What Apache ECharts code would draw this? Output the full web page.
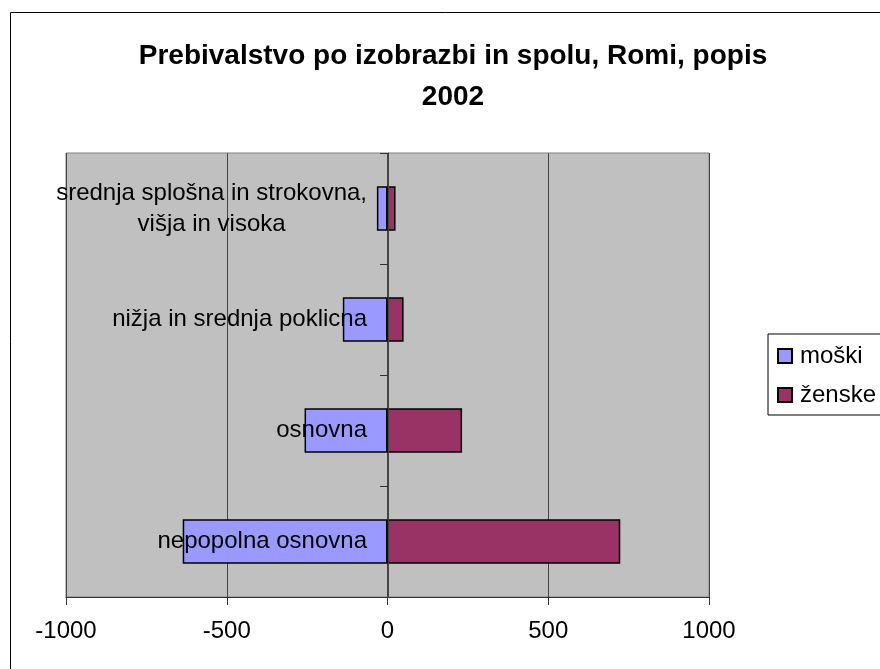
<!DOCTYPE html>
<html>
<head>
<meta charset="utf-8">
<script src="https://cdn.jsdelivr.net/npm/echarts@6/dist/echarts.min.js"></script>
<style>
  html, body { margin: 0; padding: 0; background: #fff; }
  #chart { width: 880px; height: 669px; }
</style>
</head>
<body>
<div id="chart"></div>
<script>
// podatki
const categories = [
  'nepopolna osnovna',
  'osnovna',
  'nižja in srednja poklicna',
  'srednja splošna in strokovna,\nvišja in visoka'
];
const moski = [-637, -258, -139, -33];
const zenske = [724, 232, 50, 25];
const seriesNames = ['moški', 'ženske'];
const titleText = 'Prebivalstvo po izobrazbi in spolu, Romi, popis\n2002';

const font = "'Liberation Sans', Arial, sans-serif";
const chart = echarts.init(document.getElementById('chart'));

// os kategorij stoji na vrednosti 0 (x = 388 px), premik od levega roba mreže
const gridLeft = 66;
const zeroOffset = gridLeft - 388;

chart.setOption({
  animation: false,
  textStyle: { fontFamily: font },
  graphic: [
    {
      type: 'rect',
      shape: { x: 10.5, y: 12.5, width: 900, height: 700 },
      style: { fill: 'none', stroke: '#000', lineWidth: 1 },
      z: -10
    },
    {
      type: 'text',
      x: 453,
      y: 36,
      style: {
        text: titleText,
        fontFamily: font,
        fontSize: 28,
        fontWeight: 'bold',
        lineHeight: 41,
        align: 'center',
        verticalAlign: 'top',
        fill: '#000'
      }
    }
  ],
  legend: {
    orient: 'vertical',
    left: 768,
    top: 334,
    padding: [10, 40, 8, 9],
    borderColor: '#000',
    borderWidth: 1,
    itemWidth: 14,
    itemHeight: 14,
    itemGap: 15,
    icon: 'rect',
    textStyle: { fontSize: 24, color: '#000', padding: [0, 0, 0, 3] },
    data: seriesNames
  },
  grid: {
    left: gridLeft,
    right: 171,
    top: 153,
    bottom: 72,
    containLabel: false,
    outerBoundsMode: 'none',
    show: true,
    backgroundColor: '#C0C0C0',
    borderColor: '#808080',
    borderWidth: 1
  },
  xAxis: {
    type: 'value',
    min: -1000,
    max: 1000,
    interval: 500,
    axisLine: { show: true, lineStyle: { color: '#333', width: 1 } },
    axisTick: { show: true, length: 8, lineStyle: { color: '#333' } },
    axisLabel: {
      fontSize: 24,
      color: '#000',
      margin: 22,
      formatter: function (v) { return String(v); }
    },
    splitLine: { show: true, lineStyle: { color: '#444', width: 1 } }
  },
  yAxis: {
    type: 'category',
    data: categories,
    offset: zeroOffset,
    z: 10,
    axisLine: { show: true, onZero: false, lineStyle: { color: '#444', width: 1 } },
    axisTick: { show: true, length: 8, lineStyle: { color: '#333' } },
    axisLabel: {
      margin: 21,
      formatter: function (v) {
        return v.split('\n').map(function (s) { return '{c|' + s + '}'; }).join('\n');
      },
      rich: {
        c: { fontSize: 24, lineHeight: 31, align: 'center', color: '#000', fontFamily: font }
      }
    }
  },
  series: [
    {
      name: seriesNames[0],
      type: 'bar',
      stack: 'skupaj',
      data: moski,
      barCategoryGap: '60%',
      itemStyle: { color: '#9999FF', borderColor: '#000', borderWidth: 1.5 }
    },
    {
      name: seriesNames[1],
      type: 'bar',
      stack: 'skupaj',
      data: zenske,
      barCategoryGap: '60%',
      itemStyle: { color: '#993366', borderColor: '#000', borderWidth: 1.5 }
    }
  ]
});
</script>
</body>
</html>
